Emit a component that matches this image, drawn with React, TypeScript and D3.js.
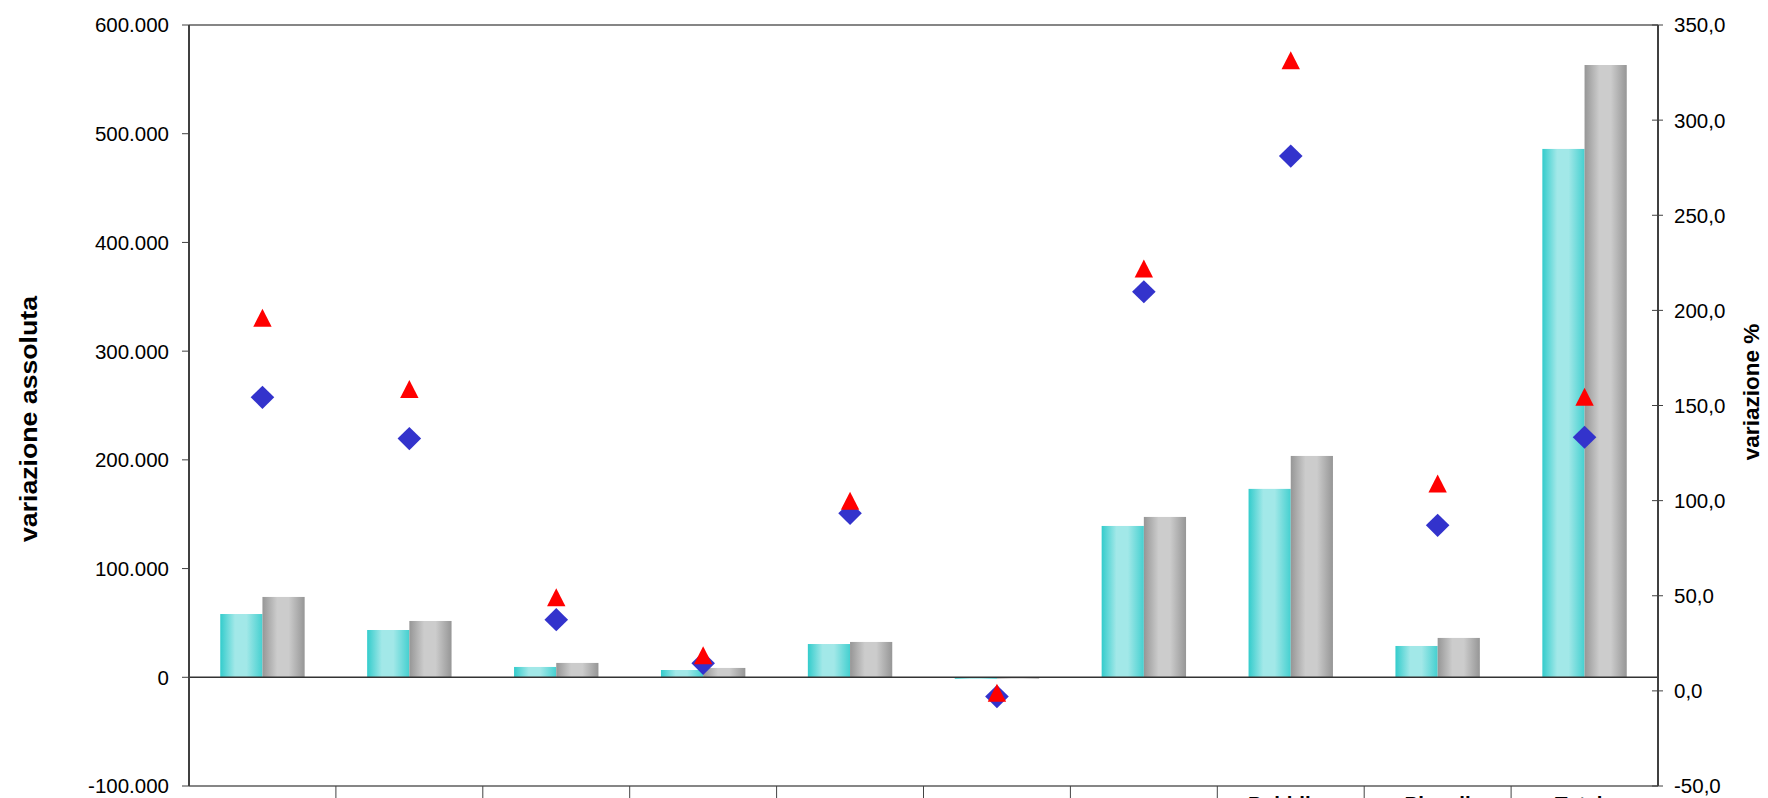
import React from "react";
import * as d3 from "d3";

const categories = ["", "", "", "", "", "", "", "Pubblica", "Piccoli", "Totale"];
const seriesCyan = [58200, 43500, 9500, 6700, 30600, -1400, 139200, 173300, 28800, 486000];
const seriesGray = [73900, 51800, 13200, 8600, 32500, -1200, 147500, 203600, 36200, 563200];
const pctTriangle = [196.1, 158.7, 49.2, 18.7, 100.0, -1.0, 222.0, 331.5, 109.0, 154.6];
const pctDiamond = [154.3, 132.6, 37.4, 14.5, 93.3, -3.0, 209.8, 281.1, 87.0, 133.3];
const leftTicks = [-100000, 0, 100000, 200000, 300000, 400000, 500000, 600000];
const rightTicks = [-50, 0, 50, 100, 150, 200, 250, 300, 350];

const W = 1768;
const H = 798;
const M = { left: 189, right: 1658, top: 25, bottom: 786 };
const FONT = "'Liberation Sans', Arial, sans-serif";

const itLocale = d3.formatLocale({
  decimal: ",",
  thousands: ".",
  grouping: [3],
  currency: ["", "€"],
  minus: "-",
});
const fmtLeft = itLocale.format(",.0f");
const fmtRight = itLocale.format(",.1f");

export default function App() {
  const idx = categories.map((_, i) => i);
  const x0 = d3
    .scaleBand<number>()
    .domain(idx)
    .range([M.left, M.right])
    .paddingInner(0.4255)
    .paddingOuter(0.21275);
  const x1 = d3.scaleBand<number>().domain([0, 1]).range([0, x0.bandwidth()]);
  const yL = d3.scaleLinear().domain([-100000, 600000]).range([M.bottom, M.top]);
  const yR = d3.scaleLinear().domain([-50, 350]).range([M.bottom, M.top]);
  const step = x0.step();
  const cx = (i: number) => (x0(i) as number) + x0.bandwidth() / 2;

  const triPath = (x: number, y: number) =>
    `M${x},${y - 9}L${x + 9.2},${y + 9}L${x - 9.2},${y + 9}Z`;
  const diaPath = (x: number, y: number) =>
    `M${x},${y - 11.6}L${x + 11.8},${y}L${x},${y + 11.6}L${x - 11.8},${y}Z`;

  const bars: React.ReactNode[] = [];
  [seriesCyan, seriesGray].forEach((s, si) => {
    s.forEach((v, i) => {
      const y0 = yL(0);
      const y1 = yL(v);
      bars.push(
        <rect
          key={`b${si}-${i}`}
          x={(x0(i) as number) + (x1(si) as number)}
          y={Math.min(y0, y1)}
          width={x1.bandwidth()}
          height={Math.max(Math.abs(y1 - y0), 0.5)}
          fill={si === 0 ? "url(#gCyan)" : "url(#gGray)"}
        />
      );
    });
  });

  return (
    <svg
      width={W}
      height={H}
      style={{ position: "absolute", left: 0, top: 0, background: "#fff" }}
      fontFamily={FONT}
    >
      <defs>
        <linearGradient id="gCyan" x1="0" x2="1" y1="0" y2="0">
          <stop offset="0%" stopColor="#33CCCC" />
          <stop offset="35%" stopColor="#A2E8E8" />
          <stop offset="62%" stopColor="#A2E8E8" />
          <stop offset="100%" stopColor="#45D0D0" />
        </linearGradient>
        <linearGradient id="gGray" x1="0" x2="1" y1="0" y2="0">
          <stop offset="0%" stopColor="#969696" />
          <stop offset="35%" stopColor="#CCCCCC" />
          <stop offset="62%" stopColor="#CCCCCC" />
          <stop offset="100%" stopColor="#969696" />
        </linearGradient>
      </defs>
      <rect x={0} y={0} width={W} height={H} fill="#fff" />

      {/* plot border top */}
      <line x1={M.left} x2={M.right} y1={M.top} y2={M.top} stroke="#868686" strokeWidth={2} />
      {/* bottom axis */}
      <line x1={M.left} x2={M.right} y1={M.bottom} y2={M.bottom} stroke="#868686" strokeWidth={2} />

      {bars}

      {/* zero line */}
      <line x1={M.left} x2={M.right} y1={yL(0)} y2={yL(0)} stroke="#333" strokeWidth={1.5} />

      {/* category separators */}
      {d3.range(1, categories.length).map((k) => (
        <line
          key={`s${k}`}
          x1={M.left + k * step}
          x2={M.left + k * step}
          y1={M.bottom}
          y2={H + 2}
          stroke="#444"
          strokeWidth={1}
        />
      ))}

      {/* left axis */}
      <line x1={M.left} x2={M.left} y1={M.top} y2={M.bottom} stroke="#404040" strokeWidth={2} />
      {leftTicks.map((t) => (
        <g key={`lt${t}`}>
          <line x1={M.left - 7} x2={M.left} y1={yL(t)} y2={yL(t)} stroke="#404040" strokeWidth={1} />
          <text
            x={M.left - 20}
            y={yL(t)}
            dy="0.36em"
            textAnchor="end"
            fontSize={20.5}
            fill="#000"
          >
            {fmtLeft(t)}
          </text>
        </g>
      ))}

      {/* right axis */}
      <line x1={M.right} x2={M.right} y1={M.top} y2={M.bottom} stroke="#404040" strokeWidth={2} />
      {rightTicks.map((t) => (
        <g key={`rt${t}`}>
          <line x1={M.right - 6} x2={M.right + 5} y1={yR(t)} y2={yR(t)} stroke="#404040" strokeWidth={1} />
          <text x={M.right + 16} y={yR(t)} dy="0.36em" textAnchor="start" fontSize={20.5} fill="#000">
            {fmtRight(t)}
          </text>
        </g>
      ))}

      {/* markers */}
      {pctDiamond.map((v, i) => (
        <path key={`d${i}`} d={diaPath(cx(i), yR(v))} fill="#3333CC" />
      ))}
      {pctTriangle.map((v, i) => (
        <path key={`t${i}`} d={triPath(cx(i), yR(v))} fill="#FF0000" />
      ))}

      {/* category labels (clipped by the bottom edge, as in the reference) */}
      {categories.map((c, i) => (
        <text
          key={`c${i}`}
          x={cx(i)}
          y={811}
          textAnchor="middle"
          fontSize={20.5}
          fontWeight="bold"
          fill="#000"
        >
          {c}
        </text>
      ))}

      {/* axis titles */}
      <text
        transform={`translate(37,419) rotate(-90)`}
        textAnchor="middle"
        fontSize={24}
        fontWeight="bold"
        textLength={246}
        lengthAdjust="spacingAndGlyphs"
        fill="#000"
      >
        variazione assoluta
      </text>
      <text
        transform={`translate(1759,392) rotate(-90)`}
        textAnchor="middle"
        fontSize={22.5}
        fontWeight="bold"
        fill="#000"
      >
        variazione %
      </text>
    </svg>
  );
}
